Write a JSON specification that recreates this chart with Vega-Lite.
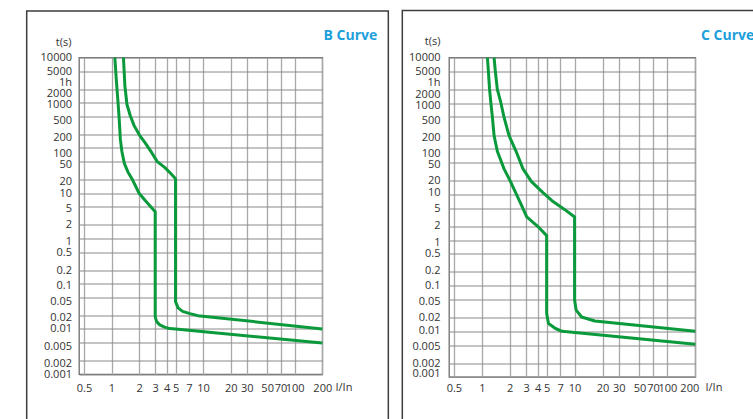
{
  "$schema": "https://vega.github.io/schema/vega-lite/v6.json",
  "background": "white",
  "padding": {"left": 25, "top": 8.5, "right": 0, "bottom": 0},
  "spacing": 10,
  "config": {
    "font": "Open Sans",
    "view": {"stroke": "#6e6e6e", "strokeWidth": 1.3},
    "axis": {
      "labelFont": "Open Sans", "labelFontSize": 11, "labelColor": "#333333",
      "titleFont": "Open Sans", "titleFontSize": 11, "titleFontWeight": "normal", "titleColor": "#333333",
      "domain": false, "ticks": false, "tickSize": 0, "labelFlush": false, "labelOverlap": false, "labelBound": false
    }
  },
  "datasets": {
    "curves": [
      {"panel": "B", "band": "min", "i": 0, "I": 1.087, "t": 10000},
      {"panel": "B", "band": "min", "i": 1, "I": 1.13, "t": 3100},
      {"panel": "B", "band": "min", "i": 2, "I": 1.174, "t": 1110},
      {"panel": "B", "band": "min", "i": 3, "I": 1.213, "t": 440},
      {"panel": "B", "band": "min", "i": 4, "I": 1.25, "t": 153},
      {"panel": "B", "band": "min", "i": 5, "I": 1.3, "t": 82.8},
      {"panel": "B", "band": "min", "i": 6, "I": 1.38, "t": 45.8},
      {"panel": "B", "band": "min", "i": 7, "I": 1.51, "t": 29.6},
      {"panel": "B", "band": "min", "i": 8, "I": 1.69, "t": 20},
      {"panel": "B", "band": "min", "i": 9, "I": 2.0, "t": 10},
      {"panel": "B", "band": "min", "i": 10, "I": 2.32, "t": 7.0},
      {"panel": "B", "band": "min", "i": 11, "I": 3.0, "t": 3.9},
      {"panel": "B", "band": "min", "i": 12, "I": 3.0, "t": 0.0185},
      {"panel": "B", "band": "min", "i": 13, "I": 3.11, "t": 0.0145},
      {"panel": "B", "band": "min", "i": 14, "I": 3.36, "t": 0.0123},
      {"panel": "B", "band": "min", "i": 15, "I": 3.8, "t": 0.011},
      {"panel": "B", "band": "min", "i": 16, "I": 4.31, "t": 0.0102},
      {"panel": "B", "band": "min", "i": 17, "I": 5.0, "t": 0.01},
      {"panel": "B", "band": "min", "i": 18, "I": 200, "t": 0.0049},
      {"panel": "B", "band": "max", "i": 0, "I": 1.35, "t": 10000},
      {"panel": "B", "band": "max", "i": 1, "I": 1.4, "t": 2335},
      {"panel": "B", "band": "max", "i": 2, "I": 1.475, "t": 914},
      {"panel": "B", "band": "max", "i": 3, "I": 1.6, "t": 523},
      {"panel": "B", "band": "max", "i": 4, "I": 1.76, "t": 316},
      {"panel": "B", "band": "max", "i": 5, "I": 2.01, "t": 196},
      {"panel": "B", "band": "max", "i": 6, "I": 2.32, "t": 131},
      {"panel": "B", "band": "max", "i": 7, "I": 2.76, "t": 77.8},
      {"panel": "B", "band": "max", "i": 8, "I": 3.16, "t": 50},
      {"panel": "B", "band": "max", "i": 9, "I": 3.8, "t": 37.3},
      {"panel": "B", "band": "max", "i": 10, "I": 4.31, "t": 29},
      {"panel": "B", "band": "max", "i": 11, "I": 5.0, "t": 21},
      {"panel": "B", "band": "max", "i": 12, "I": 5.0, "t": 0.0403},
      {"panel": "B", "band": "max", "i": 13, "I": 5.33, "t": 0.0292},
      {"panel": "B", "band": "max", "i": 14, "I": 5.97, "t": 0.0245},
      {"panel": "B", "band": "max", "i": 15, "I": 7.18, "t": 0.0218},
      {"panel": "B", "band": "max", "i": 16, "I": 8.76, "t": 0.0197},
      {"panel": "B", "band": "max", "i": 17, "I": 200, "t": 0.01},
      {"panel": "C", "band": "min", "i": 0, "I": 1.149, "t": 10000},
      {"panel": "C", "band": "min", "i": 1, "I": 1.178, "t": 5000},
      {"panel": "C", "band": "min", "i": 2, "I": 1.21, "t": 2100},
      {"panel": "C", "band": "min", "i": 3, "I": 1.25, "t": 1047},
      {"panel": "C", "band": "min", "i": 4, "I": 1.3, "t": 500},
      {"panel": "C", "band": "min", "i": 5, "I": 1.356, "t": 194},
      {"panel": "C", "band": "min", "i": 6, "I": 1.47, "t": 87.9},
      {"panel": "C", "band": "min", "i": 7, "I": 1.737, "t": 36.2},
      {"panel": "C", "band": "min", "i": 8, "I": 2.04, "t": 19},
      {"panel": "C", "band": "min", "i": 9, "I": 2.375, "t": 9.7},
      {"panel": "C", "band": "min", "i": 10, "I": 2.63, "t": 6.3},
      {"panel": "C", "band": "min", "i": 11, "I": 3.05, "t": 3.2},
      {"panel": "C", "band": "min", "i": 12, "I": 4.0, "t": 2.0},
      {"panel": "C", "band": "min", "i": 13, "I": 5.0, "t": 1.25},
      {"panel": "C", "band": "min", "i": 14, "I": 5.0, "t": 0.0245},
      {"panel": "C", "band": "min", "i": 15, "I": 5.23, "t": 0.0148},
      {"panel": "C", "band": "min", "i": 16, "I": 6.23, "t": 0.0115},
      {"panel": "C", "band": "min", "i": 17, "I": 7.33, "t": 0.01},
      {"panel": "C", "band": "min", "i": 18, "I": 200, "t": 0.0052},
      {"panel": "C", "band": "max", "i": 0, "I": 1.356, "t": 10000},
      {"panel": "C", "band": "max", "i": 1, "I": 1.4, "t": 4900},
      {"panel": "C", "band": "max", "i": 2, "I": 1.47, "t": 2000},
      {"panel": "C", "band": "max", "i": 3, "I": 1.6, "t": 1047},
      {"panel": "C", "band": "max", "i": 4, "I": 1.737, "t": 490},
      {"panel": "C", "band": "max", "i": 5, "I": 1.966, "t": 194},
      {"panel": "C", "band": "max", "i": 6, "I": 2.34, "t": 87.9},
      {"panel": "C", "band": "max", "i": 7, "I": 2.78, "t": 36.2},
      {"panel": "C", "band": "max", "i": 8, "I": 3.43, "t": 19},
      {"panel": "C", "band": "max", "i": 9, "I": 4.56, "t": 10.9},
      {"panel": "C", "band": "max", "i": 10, "I": 5.86, "t": 6.97},
      {"panel": "C", "band": "max", "i": 11, "I": 7.79, "t": 4.69},
      {"panel": "C", "band": "max", "i": 12, "I": 10, "t": 3.19},
      {"panel": "C", "band": "max", "i": 13, "I": 10, "t": 0.0483},
      {"panel": "C", "band": "max", "i": 14, "I": 10.4, "t": 0.029},
      {"panel": "C", "band": "max", "i": 15, "I": 11.9, "t": 0.0206},
      {"panel": "C", "band": "max", "i": 16, "I": 16.5, "t": 0.0168},
      {"panel": "C", "band": "max", "i": 17, "I": 200, "t": 0.01}
    ]
  },
  "hconcat": [
    {
      "width": 243.3,
      "height": 316.7,
      "title": {"text": "B Curve", "anchor": "end", "frame": "group", "dx": 55, "offset": -39.6, "fontSize": 14, "fontWeight": "bold", "color": "#1ca0dc", "font": "Open Sans", "baseline": "middle"},
      "layer": [
        {
          "data": {"values": [{}]},
          "mark": {"type": "rect", "filled": false, "stroke": "#3d3d3d", "strokeWidth": 1.5},
          "encoding": {
            "x": {"datum": 0.1186, "type": "quantitative", "scale": {"type": "log", "domain": [0.4417, 200], "nice": false}},
            "x2": {"datum": 1051},
            "y": {"datum": 107200, "type": "quantitative", "scale": {"type": "log", "domain": [0.001, 10000], "nice": false}},
            "y2": {"datum": 0.00003}
          }
        },
        {
          "data": {"name": "curves"},
          "transform": [{"filter": "datum.panel == 'B'"}],
          "mark": {"type": "line", "color": "#0a9a3c", "strokeWidth": 3, "strokeJoin": "round"},
          "encoding": {
            "x": {
              "field": "I", "type": "quantitative",
              "scale": {"type": "log", "domain": [0.4417, 200], "nice": false},
              "axis": {
                "values": [0.5, 1, 2, 3, 4, 5, 7, 10, 20, 30, 50, 70, 100, 200],
                "labelExpr": "format(datum.value, '~g')",
                "labelPadding": 8.5,
                "grid": true, "gridColor": "#a8a8a8", "gridWidth": 1.3,
                "title": "I/In", "titleAngle": 0, "titleAlign": "left", "titleBaseline": "middle", "titleX": 256, "titleY": 13.3
              }
            },
            "y": {
              "field": "t", "type": "quantitative",
              "scale": {"type": "log", "domain": [0.001, 10000], "nice": false},
              "axis": {
                "values": [10000, 5000, 3600, 2000, 1000, 500, 200, 100, 50, 20, 10, 5, 2, 1, 0.5, 0.2, 0.1, 0.05, 0.02, 0.01, 0.005, 0.002, 0.001],
                "labelExpr": "datum.value == 3600 ? '1h' : format(datum.value, '~g')",
                "labelPadding": 7.5,
                "labelOffset": {"condition": [
                  {"test": "datum.value == 3600", "value": 5},
                  {"test": "datum.value == 2000", "value": 4.5},
                  {"test": "datum.value == 1000", "value": 1.5},
                  {"test": "datum.value == 500", "value": 4.5},
                  {"test": "datum.value == 200", "value": 3},
                  {"test": "datum.value == 100", "value": 5.5},
                  {"test": "datum.value == 50", "value": 3},
                  {"test": "datum.value == 20", "value": 1.5},
                  {"test": "datum.value == 5", "value": 2},
                  {"test": "datum.value == 1", "value": 3.5},
                  {"test": "datum.value == 0.1", "value": 2},
                  {"test": "datum.value == 0.05", "value": 4},
                  {"test": "datum.value == 0.02", "value": 2},
                  {"test": "datum.value == 0.005", "value": 3.5},
                  {"test": "datum.value == 0.002", "value": 3}
                ], "value": 0},
                "grid": true, "gridColor": "#8a8a8a", "gridWidth": 1,
                "gridOpacity": {"condition": {"test": "datum.value == 3600", "value": 0}, "value": 1},
                "title": "t(s)", "titleAngle": 0, "titleAlign": "right", "titleBaseline": "middle", "titleX": -8, "titleY": -15
              }
            },
            "detail": {"field": "band"},
            "order": {"field": "i"}
          }
        }
      ]
    },
    {
      "width": 246.3,
      "height": 319.4,
      "title": {"text": "C Curve", "anchor": "end", "frame": "group", "dx": 59, "offset": -40, "fontSize": 14, "fontWeight": "bold", "color": "#1ca0dc", "font": "Open Sans", "baseline": "middle"},
      "layer": [
        {
          "data": {"values": [{}]},
          "mark": {"type": "rect", "filled": false, "stroke": "#3d3d3d", "strokeWidth": 1.5},
          "encoding": {
            "x": {"datum": 0.1391, "type": "quantitative", "scale": {"type": "log", "domain": [0.4431, 200], "nice": false}},
            "x2": {"datum": 1222},
            "y": {"datum": 107000, "type": "quantitative", "scale": {"type": "log", "domain": [0.001, 10000], "nice": false}},
            "y2": {"datum": 0.00003}
          }
        },
        {
          "data": {"name": "curves"},
          "transform": [{"filter": "datum.panel == 'C'"}],
          "mark": {"type": "line", "color": "#0a9a3c", "strokeWidth": 3, "strokeJoin": "round"},
          "encoding": {
            "x": {
              "field": "I", "type": "quantitative",
              "scale": {"type": "log", "domain": [0.4431, 200], "nice": false},
              "axis": {
                "values": [0.5, 1, 2, 3, 4, 5, 7, 10, 20, 30, 50, 70, 100, 200],
                "labelExpr": "format(datum.value, '~g')",
                "labelPadding": 6,
                "labelOffset": {"condition": {"test": "datum.value == 200", "value": -6}, "value": 0},
                "grid": true, "gridColor": "#a8a8a8", "gridWidth": 1.3,
                "title": "I/In", "titleAngle": 0, "titleAlign": "left", "titleBaseline": "middle", "titleX": 256, "titleY": 10.8
              }
            },
            "y": {
              "field": "t", "type": "quantitative",
              "scale": {"type": "log", "domain": [0.001, 10000], "nice": false},
              "axis": {
                "values": [10000, 5000, 3600, 2000, 1000, 500, 200, 100, 50, 20, 10, 5, 2, 1, 0.5, 0.2, 0.1, 0.05, 0.02, 0.01, 0.005, 0.002, 0.001],
                "labelExpr": "datum.value == 3600 ? '1h' : format(datum.value, '~g')",
                "labelPadding": 9,
                "labelOffset": {"condition": [
                  {"test": "datum.value == 3600", "value": 4.5},
                  {"test": "datum.value == 2000", "value": 5},
                  {"test": "datum.value == 1000", "value": 2},
                  {"test": "datum.value == 500", "value": 4},
                  {"test": "datum.value == 200", "value": 2},
                  {"test": "datum.value == 100", "value": 4.5},
                  {"test": "datum.value == 50", "value": 2},
                  {"test": "datum.value == 10", "value": -1.5},
                  {"test": "datum.value == 2", "value": -1},
                  {"test": "datum.value == 1", "value": 2},
                  {"test": "datum.value == 0.2", "value": -1.5},
                  {"test": "datum.value == 0.05", "value": 2.3},
                  {"test": "datum.value == 0.01", "value": -1},
                  {"test": "datum.value == 0.005", "value": 1},
                  {"test": "datum.value == 0.001", "value": -3}
                ], "value": 0},
                "grid": true, "gridColor": "#8a8a8a", "gridWidth": 1,
                "gridOpacity": {"condition": {"test": "datum.value == 3600", "value": 0}, "value": 1},
                "title": "t(s)", "titleAngle": 0, "titleAlign": "right", "titleBaseline": "middle", "titleX": -9, "titleY": -15.6
              }
            },
            "detail": {"field": "band"},
            "order": {"field": "i"}
          }
        }
      ]
    }
  ]
}
